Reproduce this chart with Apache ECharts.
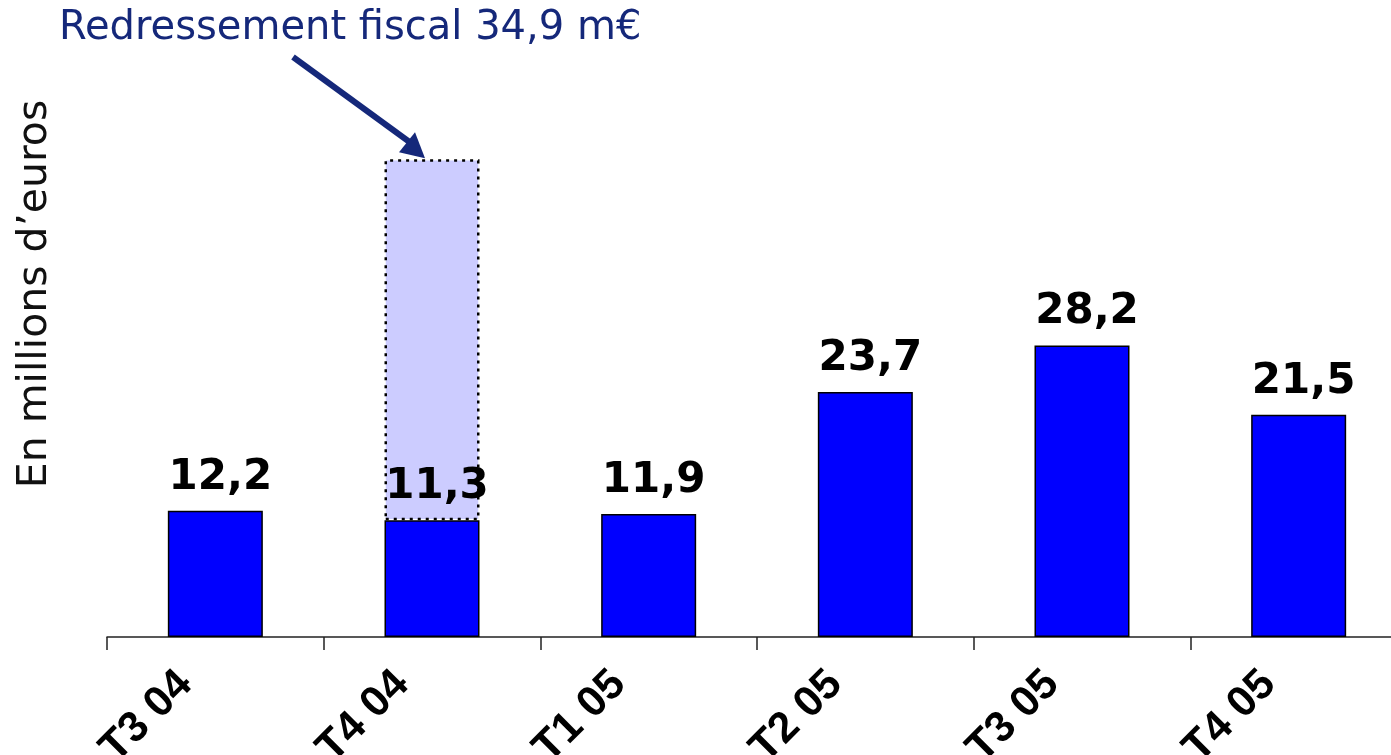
<!DOCTYPE html>
<html>
<head>
<meta charset="utf-8">
<script src="https://cdn.jsdelivr.net/npm/echarts@6/dist/echarts.min.js"></script>
<style>
  html, body { margin: 0; padding: 0; background: #fff; }
  #chart { width: 1391px; height: 755px; }
</style>
</head>
<body>
<div id="chart"></div>
<script>
// données
const quarters = ['T3 04', 'T4 04', 'T1 05', 'T2 05', 'T3 05', 'T4 05']
const resultValues = [12.2, 11.3, 11.9, 23.7, 28.2, 21.5]
const adjustmentValues = [null, 34.9, null, null, null, null]
const noteText = 'Redressement fiscal 34,9 m€'
const unitText = 'En millions d’euros'

const chart = echarts.init(document.getElementById('chart'))

const option = {
  animation: false,
  grid: { left: 107, right: -16, top: 120, bottom: 118, outerBoundsMode: 'none' },
  xAxis: {
    type: 'category',
    data: quarters,
    axisLine: { lineStyle: { color: '#222', width: 1.5 } },
    axisTick: { show: true, length: 13, lineStyle: { color: '#222', width: 1.5 } },
    axisLabel: {
      rotate: 45,
      margin: 11,
      padding: [0, 42, 0, 0],
      color: '#000',
      fontFamily: 'Liberation Sans',
      fontWeight: 'bold',
      fontSize: 43
    }
  },
  yAxis: {
    type: 'value',
    min: 0,
    max: 50,
    axisLine: { show: false },
    axisTick: { show: false },
    axisLabel: { show: false },
    splitLine: { show: false }
  },
  series: [
    {
      name: 'Résultat',
      type: 'bar',
      stack: 'total',
      barWidth: 95,
      data: resultValues,
      itemStyle: { color: '#0000ff', borderColor: '#000', borderWidth: 1.5 },
      label: {
        show: true,
        position: 'top',
        distance: 12,
        offset: [5, 0],
        color: '#000',
        fontFamily: 'DejaVu Sans',
        fontWeight: 'bold',
        fontSize: 42,
        formatter: p => String(p.value).replace('.', ',')
      },
      z: 3
    },
    {
      name: 'Redressement fiscal',
      type: 'bar',
      stack: 'total',
      barWidth: 95,
      data: adjustmentValues,
      itemStyle: {
        color: '#ccccff',
        borderColor: '#000',
        borderWidth: 2.5,
        borderType: [3, 5]
      },
      z: 2
    }
  ]
}
chart.setOption(option)

// flèche d'annotation vers le haut de la barre T4 04
const stackTop = resultValues[1] + adjustmentValues[1]
const tip = chart.convertToPixel({ gridIndex: 0 }, [quarters[1], stackTop])
chart.setOption({
  graphic: [
    {
      type: 'text',
      left: 59,
      top: 9,
      style: {
        text: noteText,
        fill: '#15287a',
        font: '40px "DejaVu Sans"'
      }
    },
    {
      type: 'text',
      x: 35,
      y: 294,
      rotation: Math.PI / 2,
      style: {
        text: unitText,
        fill: '#111',
        font: '41px "DejaVu Sans"',
        align: 'center',
        verticalAlign: 'middle'
      }
    },
    {
      type: 'line',
      shape: { x1: 293, y1: 57, x2: tip[0] - 18, y2: tip[1] - 14 },
      style: { stroke: '#15287a', lineWidth: 6 }
    },
    {
      type: 'polygon',
      shape: {
        points: [
          [tip[0] - 7, tip[1] - 1],
          [tip[0] - 33, tip[1] - 7],
          [tip[0] - 17, tip[1] - 27]
        ]
      },
      style: { fill: '#15287a' }
    }
  ]
})

window.addEventListener('resize', () => chart.resize())
</script>
</body>
</html>
